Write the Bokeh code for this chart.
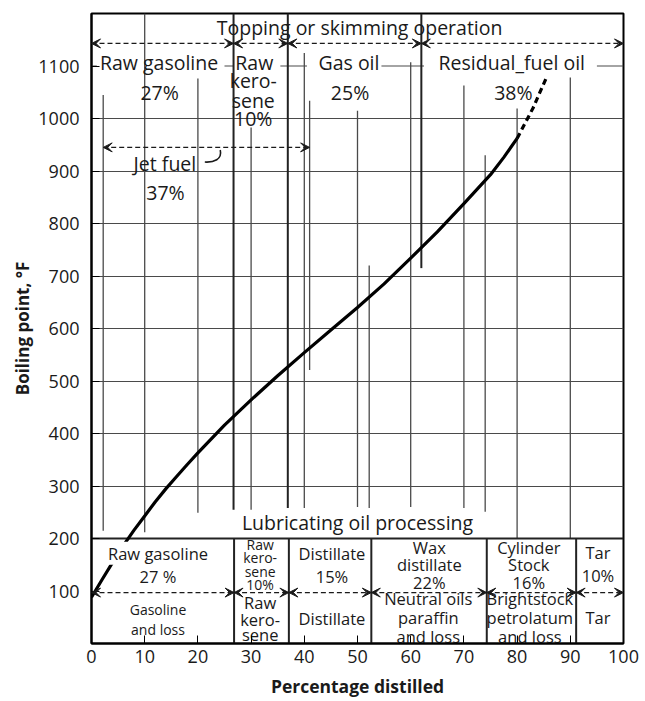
from bokeh.plotting import figure
from bokeh.models import ColumnDataSource, Arrow, VeeHead, FixedTicker
from bokeh.core.properties import value
from bokeh.embed import file_html
from bokeh.resources import INLINE

FONT = "Open Sans"
INK = "#1a1a1a"
GRID = "#4a4a4a"

# ---- data: distillation curve ----
pct = [0, 2, 4, 6, 8, 10, 12, 14, 16, 18, 20, 25, 30, 35, 40, 45, 50, 55, 60, 65, 70, 75, 77.5, 80]
bp = [88, 122, 155, 187, 216, 243, 270, 295, 318, 341, 363, 416, 464, 510, 554, 597, 640, 685, 734, 784,
      838, 893, 926, 962]
pct_ext = [80, 83, 85.6]
bp_ext = [962, 1020, 1080]

x_ticks = [0, 10, 20, 30, 40, 50, 60, 70, 80, 90, 100]
y_ticks = [100, 200, 300, 400, 500, 600, 700, 800, 900, 1000, 1100]

# ---- grid / partition lines ----
h_grid = [300, 400, 500, 600, 700, 800, 900, 1000]
h1100_x0 = [0, 25.0, 35.5, 54.5, 95.0]
h1100_x1 = [1.0, 26.7, 40.5, 62.5, 100]
v_x = [2.2, 10, 20, 30, 40, 41, 50, 52.2, 60, 70, 74, 80, 90]
v_top = [1045, 1200, 1076, 983, 1125, 1034, 1015, 720, 1107, 1063, 930, 1019, 1078]
v_bot = [215, 212, 249, 255, 258, 521, 260, 258, 260, 258, 251, 200, 200]
div_x = [26.7, 36.9, 62]
div_top = [1200, 1200, 1200]
div_bot = [255, 258, 715]
box_x = [26.8, 37.1, 52.6, 74.3, 91.1]

# ---- range arrows ----
top_arr_x0 = [0, 26.7, 36.9, 62]
top_arr_x1 = [26.7, 36.9, 62, 100]
top_arr_y = 1143
jet_x0, jet_x1, jet_y = 2.2, 41, 945
low_arr_x0 = [0, 26.8, 37.1, 52.6, 74.3, 91.1]
low_arr_x1 = [26.8, 37.1, 52.6, 74.3, 91.1, 100]
low_arr_y = 97
# small leader hook from "Jet fuel" to its arrow
hook = dict(x0=24.2, y0=940, x1=21.3, y1=917, cx0=24.6, cy0=922, cx1=23.0, cy1=916)

# ---- labels ----
big_txt = ["Topping or skimming operation", "Raw gasoline", "27%", "Raw", "kero-", "sene", "10%",
           "Gas oil", "25%", "Residual_fuel oil", "38%", "Jet fuel", "37%", "Lubricating oil processing"]
big_x = [50.4, 12.7, 12.8, 30.6, 30.4, 30.4, 30.4, 48.4, 48.6, 79.0, 79.3, 13.8, 13.9, 50.0]
big_y = [1173, 1107, 1049, 1107, 1072, 1034, 1000, 1107, 1049, 1107, 1049, 914, 859, 230]

mid_txt = ["Raw gasoline", "27 %", "Distillate", "15%", "Wax", "distillate", "22%",
           "Cylinder", "Stock", "16%", "Tar", "10%",
           "Raw", "kero-", "sene", "Distillate", "Neutral oils", "paraffin", "and loss",
           "Brightstock", "petrolatum", "and loss", "Tar"]
mid_x = [12.5, 12.5, 45.2, 45.2, 63.5, 63.5, 63.5, 82.2, 82.2, 82.2, 95.2, 95.2,
         31.7, 31.7, 31.7, 45.2, 63.3, 63.3, 63.3, 82.4, 82.4, 82.4, 95.2]
mid_y = [172, 127, 172, 127, 182, 150, 117, 182, 150, 117, 173, 129,
         78, 46, 17, 48, 86, 50, 13, 86, 50, 13, 50]

small_txt = ["Raw", "kero-", "sene", "10%", "Gasoline", "and loss"]
small_x = [31.7, 31.7, 31.7, 31.7, 12.5, 12.5]
small_y = [188, 163, 137, 113, 65, 27]

p = figure(width=640, height=700, x_range=(0, 100), y_range=(0, 1200),
           output_backend="svg", toolbar_location=None,
           min_border_left=91, min_border_right=17, min_border_top=13, min_border_bottom=56)
p.xgrid.visible = False
p.ygrid.visible = False
p.outline_line_color = "black"
p.outline_line_width = 2
p.background_fill_color = "white"

# grid lines
p.hspan(y=list(h_grid), line_color=GRID, line_width=1.2)
p.segment(x0=h1100_x0, x1=h1100_x1, y0=[1100] * 5, y1=[1100] * 5, line_color=GRID, line_width=1.2)
p.segment(x0=v_x, x1=list(v_x), y0=v_bot, y1=v_top, line_color=GRID, line_width=1.3)
p.segment(x0=div_x, x1=list(div_x), y0=div_bot, y1=div_top, line_color="#222222", line_width=2)
p.hspan(y=[200], line_color="#222222", line_width=2)
p.segment(x0=box_x, x1=list(box_x), y0=[0] * len(box_x), y1=[200] * len(box_x),
          line_color="#222222", line_width=2)

# curve
p.line(pct, bp, line_color="black", line_width=3.2, line_join="round")
p.line(pct_ext, bp_ext, line_color="black", line_width=3.2, line_dash="6 4")

# arrows
def add_arrows(x0, x1, y):
    src = ColumnDataSource(dict(x0=x0, x1=x1, y=[y] * len(x0)))
    p.add_layout(Arrow(start=VeeHead(size=9, fill_color=INK, line_color=INK, line_width=1),
                       end=VeeHead(size=9, fill_color=INK, line_color=INK, line_width=1),
                       x_start="x0", y_start="y", x_end="x1", y_end="y", source=src,
                       line_color=INK, line_width=1.3, line_dash="5 3"))

add_arrows(top_arr_x0, top_arr_x1, top_arr_y)
add_arrows([jet_x0], [jet_x1], jet_y)
add_arrows(low_arr_x0, low_arr_x1, low_arr_y)
p.bezier(x0=[hook["x0"]], y0=[hook["y0"]], x1=[hook["x1"]], y1=[hook["y1"]],
         cx0=[hook["cx0"]], cy0=[hook["cy0"]], cx1=[hook["cx1"]], cy1=[hook["cy1"]],
         line_color=INK, line_width=1.6)

# texts
p.text(x=big_x, y=big_y, text=big_txt, text_font=value(FONT), text_font_size="19.5px",
       text_align="center", text_baseline="middle", text_color=INK)
mid_bg = [1.0 if i == 0 else 0.0 for i in range(len(mid_txt))]
src_m = ColumnDataSource(dict(x=mid_x, y=mid_y, t=mid_txt, a=mid_bg))
p.text(x="x", y="y", text="t", source=src_m, text_font=value(FONT), text_font_size="16.5px",
       text_align="center", text_baseline="middle", text_color=INK,
       background_fill_color="white", background_fill_alpha="a")
p.text(x=small_x, y=small_y, text=small_txt, text_font_size="14px", text_font=value(FONT),
       text_align="center", text_baseline="middle", text_color=INK)

# axes
for ax in (p.xaxis[0], p.yaxis[0]):
    ax.axis_line_color = "black"
    ax.axis_line_width = 2
    ax.major_tick_in = 8
    ax.major_tick_out = 0
    ax.minor_tick_line_color = None
    ax.major_tick_line_color = "black"
    ax.major_label_text_font = FONT
    ax.major_label_text_font_size = "18px"
    ax.major_label_text_color = INK
    ax.axis_label_text_font = FONT
    ax.axis_label_text_font_style = "bold"
    ax.axis_label_text_color = INK

p.xaxis.axis_label_text_font_size = "17.5px"
p.yaxis.axis_label_text_font_size = "17px"
p.xaxis.ticker = FixedTicker(ticks=x_ticks)
p.yaxis.ticker = FixedTicker(ticks=y_ticks)
p.xaxis.axis_label = "Percentage distilled"
p.yaxis.axis_label = "Boiling point, °F"
p.xaxis.major_label_standoff = 6
p.yaxis.major_label_standoff = 12
p.xaxis.axis_label_standoff = 8
p.yaxis.axis_label_standoff = 1

open("out.html", "w").write(file_html(p, INLINE))
